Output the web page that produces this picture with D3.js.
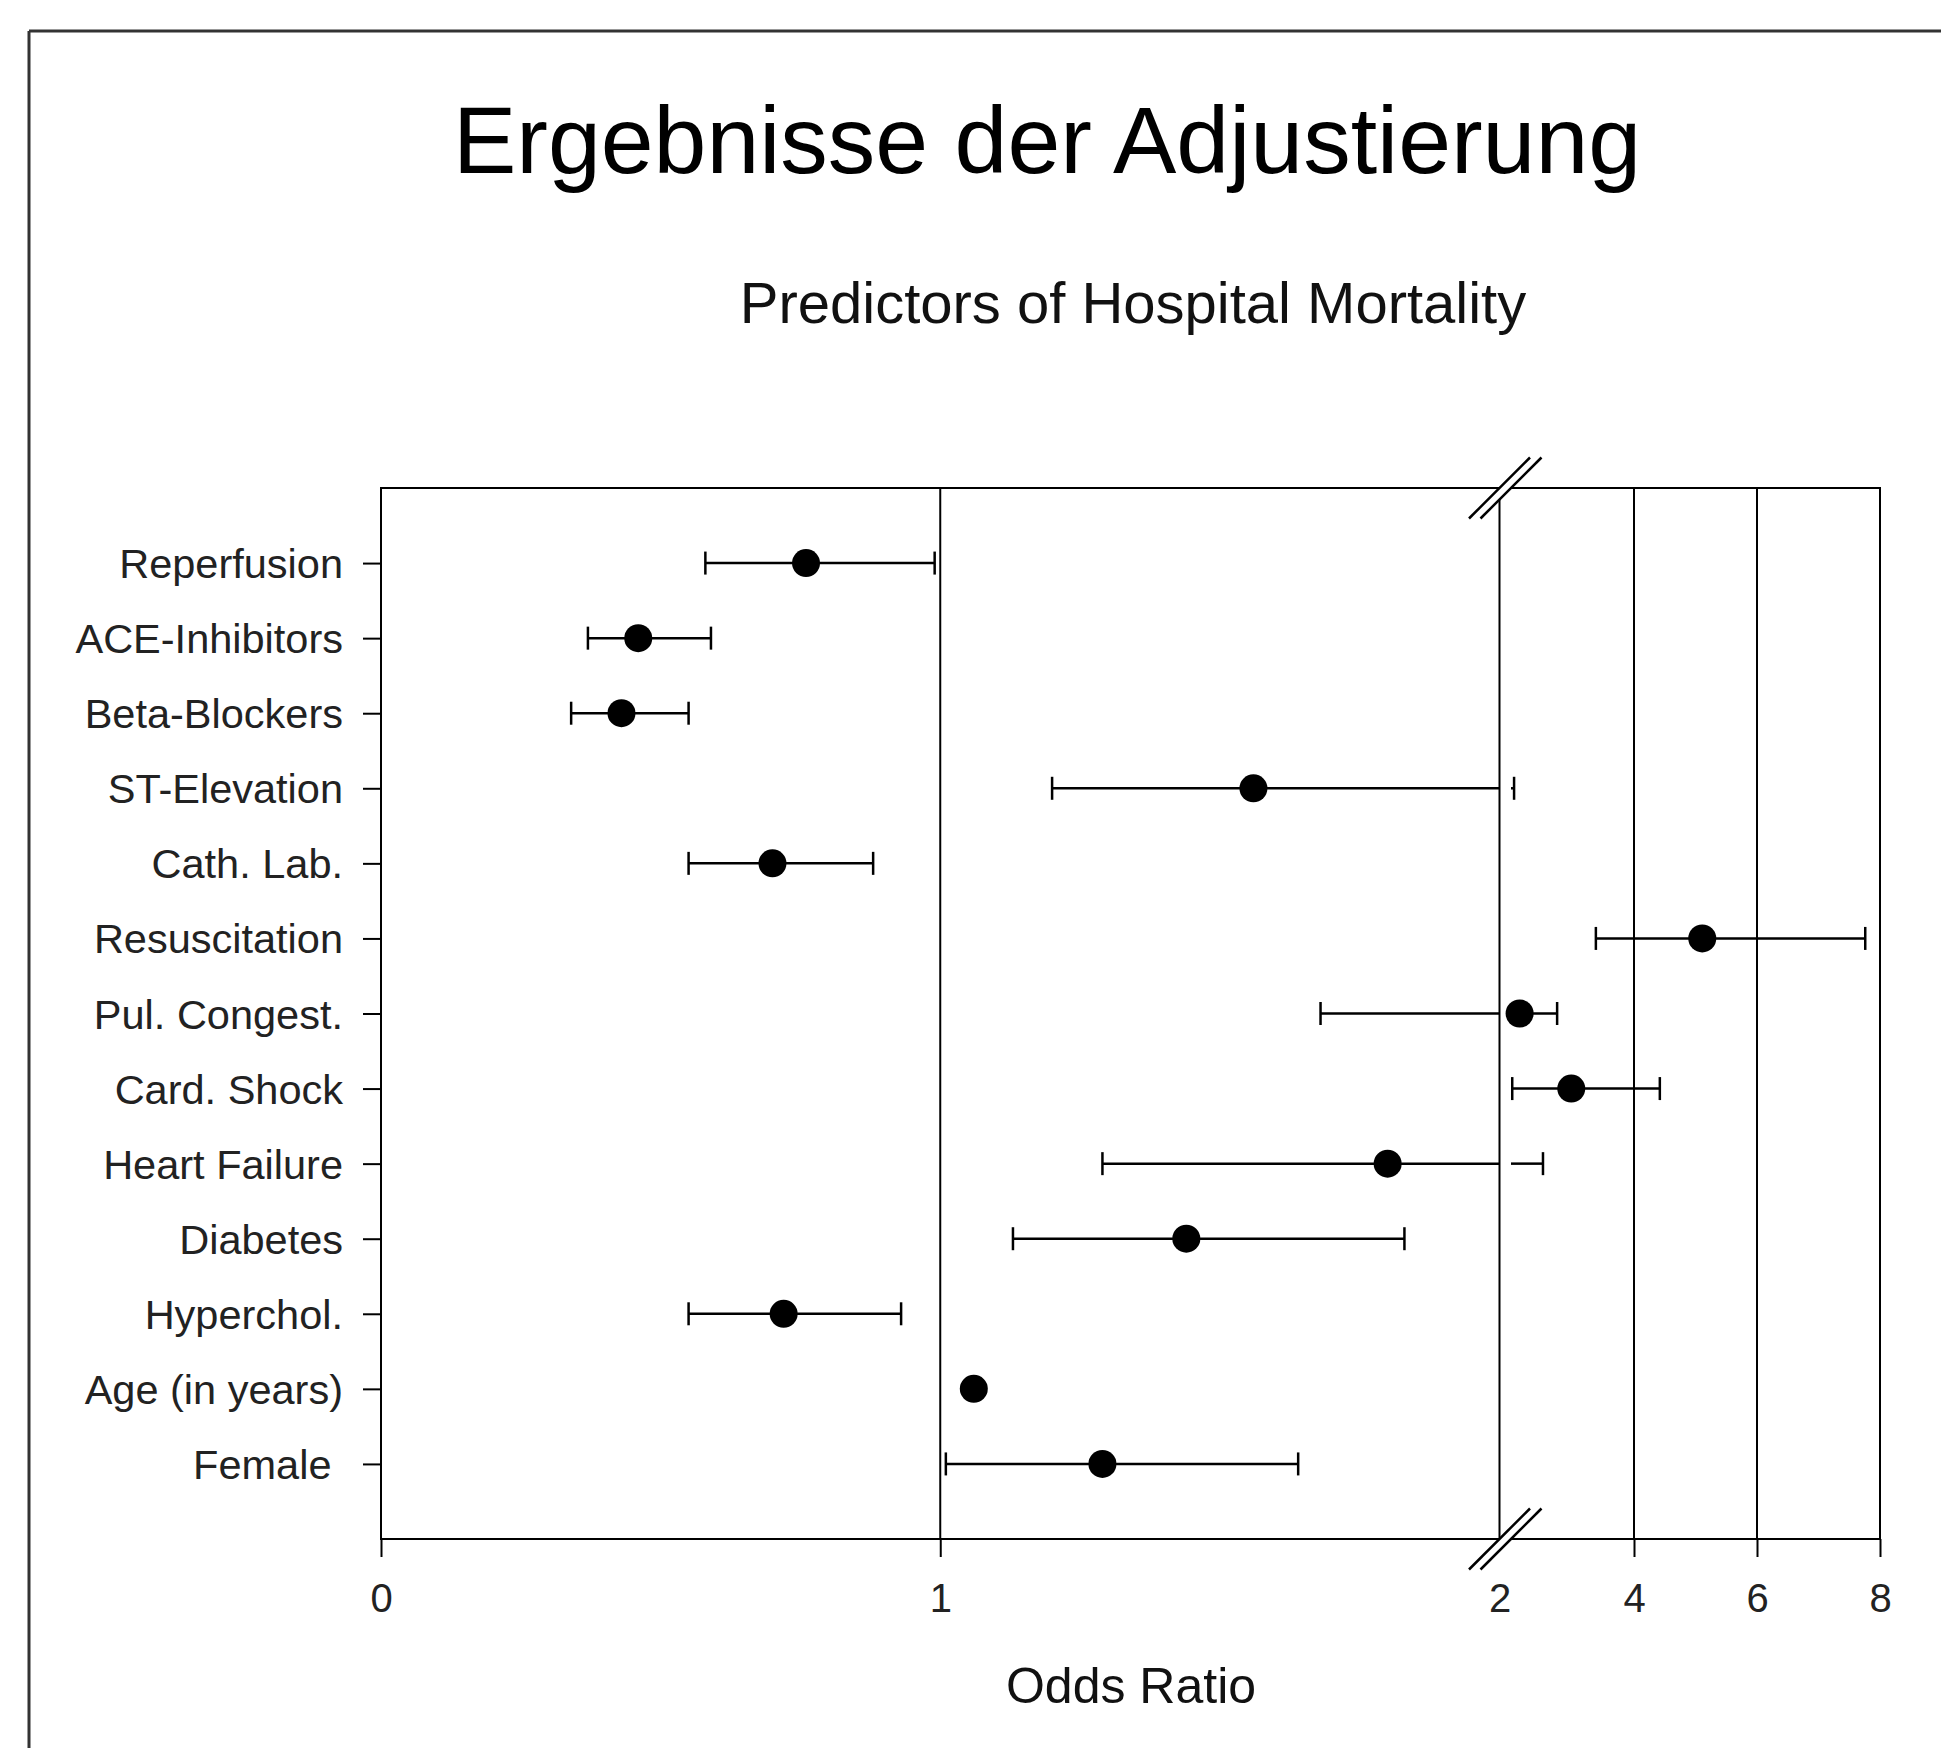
<!DOCTYPE html>
<html>
<head>
<meta charset="utf-8">
<script src="https://cdn.jsdelivr.net/npm/d3@7"></script>
<style>
  html, body { margin: 0; padding: 0; background: #fff; }
  svg { display: block; font-family: "Liberation Sans", Arial, sans-serif; }
</style>
</head>
<body>
<svg id="chart"></svg>
<script>
// odds ratios with 95% CI
const predictors = ['Reperfusion', 'ACE-Inhibitors', 'Beta-Blockers', 'ST-Elevation', 'Cath. Lab.',
  'Resuscitation', 'Pul. Congest.', 'Card. Shock', 'Heart Failure', 'Diabetes', 'Hyperchol.',
  'Age (in years)', 'Female '];
const oddsRatio = [0.76, 0.46, 0.43, 1.56, 0.70, 5.11, 2.14, 2.98, 1.80, 1.44, 0.72, 1.06, 1.29];
const ciLower   = [0.58, 0.37, 0.34, 1.20, 0.55, 3.38, 1.68, 2.02, 1.29, 1.13, 0.55, 1.05, 1.01];
const ciUpper   = [0.99, 0.59, 0.55, 2.05, 0.88, 7.76, 2.75, 4.42, 2.52, 1.83, 0.93, 1.07, 1.64];
const leftTicks = [0, 1, 2];
const rightTicks = [4, 6, 8];
const gridValues = [1, 2, 4, 6];

const width = 1941;
const height = 1748;

const svg = d3.select('#chart')
  .attr('width', width)
  .attr('height', height);

const frame = { left: 381, right: 1880, top: 488, bottom: 1539 };

// broken axis: 0..2 on the left part, 2..8 on the right part
const xL = d3.scaleLinear().domain([0, 2]).range([frame.left, 1499.5]);
const xR = d3.scaleLinear().domain([2, 8]).range([1511, frame.right]);
const x = v => v <= 2 ? xL(v) : xR(v);

const y = d3.scalePoint()
  .domain(predictors)
  .range([frame.top, frame.bottom])
  .padding(1);

const rows = predictors.map((p, i) => ({ name: p, or: oddsRatio[i], lo: ciLower[i], hi: ciUpper[i] }));

// outer slide border
svg.append('line')
  .attr('x1', 29).attr('x2', width).attr('y1', 31).attr('y2', 31)
  .attr('stroke', '#333').attr('stroke-width', 3);
svg.append('line')
  .attr('x1', 29).attr('x2', 29).attr('y1', 31).attr('y2', height)
  .attr('stroke', '#333').attr('stroke-width', 3);

svg.append('text')
  .attr('x', 1047).attr('y', 173)
  .attr('text-anchor', 'middle')
  .style('font-size', '95px')
  .attr('fill', '#000')
  .text('Ergebnisse der Adjustierung');

svg.append('text')
  .attr('x', 1133).attr('y', 323)
  .attr('text-anchor', 'middle')
  .style('font-size', '58px')
  .attr('fill', '#111')
  .text('Predictors of Hospital Mortality');

svg.append('text')
  .attr('x', 1131).attr('y', 1703)
  .attr('text-anchor', 'middle')
  .style('font-size', '50px')
  .attr('fill', '#111')
  .text('Odds Ratio');

// frame + vertical reference lines
svg.append('rect')
  .attr('x', frame.left).attr('y', frame.top)
  .attr('width', frame.right - frame.left)
  .attr('height', frame.bottom - frame.top)
  .attr('fill', 'none')
  .attr('stroke', '#000')
  .attr('stroke-width', 2);

svg.append('g')
  .selectAll('line')
  .data(gridValues)
  .join('line')
    .attr('x1', d => d === 2 ? xL(d) : x(d))
    .attr('x2', d => d === 2 ? xL(d) : x(d))
    .attr('y1', frame.top)
    .attr('y2', frame.bottom)
    .attr('stroke', '#000')
    .attr('stroke-width', 2);

// axes
const axisL = svg.append('g')
  .attr('transform', `translate(0,${frame.bottom})`)
  .call(d3.axisBottom(xL).tickValues(leftTicks).tickSize(18).tickPadding(27).tickFormat(d3.format('d')));
axisL.selectAll('.tick').filter(d => d === 2).select('line').remove();

const axisR = svg.append('g')
  .attr('transform', `translate(0,${frame.bottom})`)
  .call(d3.axisBottom(xR).tickValues(rightTicks).tickSize(18).tickPadding(27).tickFormat(d3.format('d')));

const axisY = svg.append('g')
  .attr('transform', `translate(${frame.left},0)`)
  .call(d3.axisLeft(y).tickSize(18).tickPadding(20));

[axisL, axisR, axisY].forEach(a => {
  a.select('.domain').remove();
  a.selectAll('.tick line').attr('stroke', '#000').attr('stroke-width', 2);
  a.selectAll('.tick text')
    .attr('fill', '#222')
    .style('font-size', '40px')
    .style('font-family', '"Liberation Sans", Arial, sans-serif')
    .style('white-space', 'pre');
});
axisY.selectAll('.tick text').attr('dy', '0.35em').style('font-size', '41.5px');

// axis break marks (top and bottom)
[frame.top, frame.bottom].forEach(yy => {
  const a = xL(2), b = xR(2), s = 30.5;
  svg.append('path')
    .attr('d', `M${a - s},${yy + s}L${a + s},${yy - s}L${b + s},${yy - s}L${b - s},${yy + s}Z`)
    .attr('fill', '#fff');
  [a, b].forEach(cx => {
    svg.append('line')
      .attr('x1', cx - s).attr('y1', yy + s)
      .attr('x2', cx + s).attr('y2', yy - s)
      .attr('stroke', '#000')
      .attr('stroke-width', 2.5);
  });
});

// confidence intervals, split at the break
const ci = svg.append('g').attr('stroke', '#000').attr('stroke-width', 2.5);

rows.forEach(d => {
  const yy = y(d.name);
  if (d.lo < 2) {
    ci.append('line')
      .attr('x1', xL(d.lo)).attr('x2', xL(Math.min(d.hi, 2)))
      .attr('y1', yy).attr('y2', yy);
  }
  if (d.hi > 2) {
    ci.append('line')
      .attr('x1', xR(Math.max(d.lo, 2))).attr('x2', xR(d.hi))
      .attr('y1', yy).attr('y2', yy);
  }
  [d.lo, d.hi].forEach(v => {
    ci.append('line')
      .attr('x1', x(v)).attr('x2', x(v))
      .attr('y1', yy - 11.5).attr('y2', yy + 11.5);
  });
});

svg.append('g')
  .selectAll('circle')
  .data(rows)
  .join('circle')
    .attr('cx', d => x(d.or))
    .attr('cy', d => y(d.name))
    .attr('r', 14)
    .attr('fill', '#000');
</script>
</body>
</html>
